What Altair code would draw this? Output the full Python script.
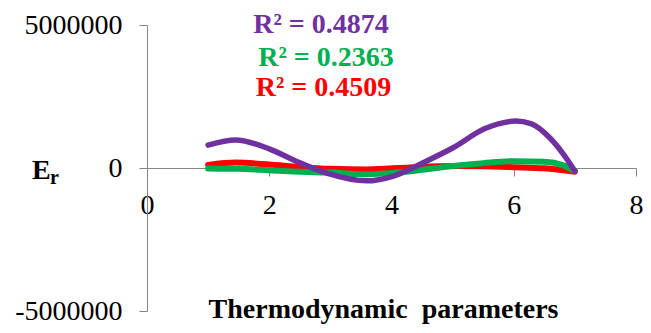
import altair as alt
import pandas as pd

# Trendline readings (x = thermodynamic parameter, y = E_r)
purple_x = [1.0, 1.45, 2.0, 2.45, 2.94, 3.59, 4.02, 4.56, 5.0, 5.53, 6.03, 6.28, 6.6, 6.82, 7.0]
purple_y = [800000, 980000, 670000, 230000, -180000, -450000, -290000, 230000, 700000,
            1380000, 1640000, 1550000, 1030000, 460000, -110000]

green_x = [1.0, 1.5, 2.0, 2.72, 3.0, 3.59, 4.28, 5.0, 5.5, 6.01, 6.5, 6.8, 7.0]
green_y = [-20000, -30000, -80000, -150000, -160000, -220000, -120000, 70000, 170000,
           240000, 220000, 100000, -110000]

red_x = [1.0, 1.45, 2.0, 2.5, 3.0, 3.6, 4.3, 5.0, 5.5, 6.0, 6.5, 7.0]
red_y = [110000, 190000, 120000, 30000, -30000, -50000, 20000, 70000, 60000, 30000, -10000, -130000]

r2_labels = ["R\u00b2 = 0.4874", "R\u00b2 = 0.2363", "R\u00b2 = 0.4509"]
x_ticks = [0, 2, 4, 6, 8]
y_ticks = [-5000000, 0, 5000000]

W, H = 489, 286
FONT = "Liberation Serif, Times New Roman, serif"
AXIS_COLOR = "#868686"

xenc = alt.X("x:Q", scale=alt.Scale(domain=[0, 8], nice=False), axis=alt.Axis(
    values=x_ticks, offset=-H / 2, grid=False, title=None,
    domainColor=AXIS_COLOR, tickColor=AXIS_COLOR, tickSize=8,
    labelFont=FONT, labelFontSize=28, labelColor="#000000",
    labelPadding=15, labelFlush=False))
yenc = alt.Y("y:Q", scale=alt.Scale(domain=[-5000000, 5000000], nice=False), axis=alt.Axis(
    values=y_ticks, labelExpr="toString(datum.value)", grid=False, title=None,
    domainColor=AXIS_COLOR, tickColor=AXIS_COLOR, tickSize=8,
    labelFont=FONT, labelFontSize=28, labelColor="#000000",
    labelPadding=17))


def curve(xs, ys, color, width):
    df = pd.DataFrame({"x": xs, "y": ys})
    return alt.Chart(df).mark_line(
        color=color, strokeWidth=width, interpolate="monotone", strokeCap="round"
    ).encode(x=xenc, y=yenc)


def label(text, x, y, color="#000000", size=28, align="center", weight="bold"):
    return alt.Chart(alt.Data(values=[{}])).mark_text(
        text=text, font=FONT, fontSize=size, fontWeight=weight, color=color,
        align=align, baseline="alphabetic"
    ).encode(x=alt.value(x), y=alt.value(y))


red = curve(red_x, red_y, "#FF0000", 6)
green = curve(green_x, green_y, "#00B050", 6)
purple = curve(purple_x, purple_y, "#7030A0", 5.5)

texts = [
    label(r2_labels[0], 174, 8, color="#7030A0"),
    label(r2_labels[1], 179, 41, color="#00B050"),
    label(r2_labels[2], 176.5, 71, color="#FF0000"),
    label("E", -115, 153.5, align="left"),
    label("r", -97, 158.5, size=20, align="left"),
    label("Thermodynamic\u00a0 parameters", 236.5, 293),
]

chart = alt.layer(red, green, purple, *texts).properties(
    width=W, height=H,
    autosize=alt.AutoSizeParams(type="none"),
    padding={"left": 139, "top": 17, "right": 7, "bottom": 14},
).configure(background="#ffffff", view=alt.ViewConfig(stroke=None))

chart.save("out.html", embed_options={"renderer": "svg", "actions": False})
